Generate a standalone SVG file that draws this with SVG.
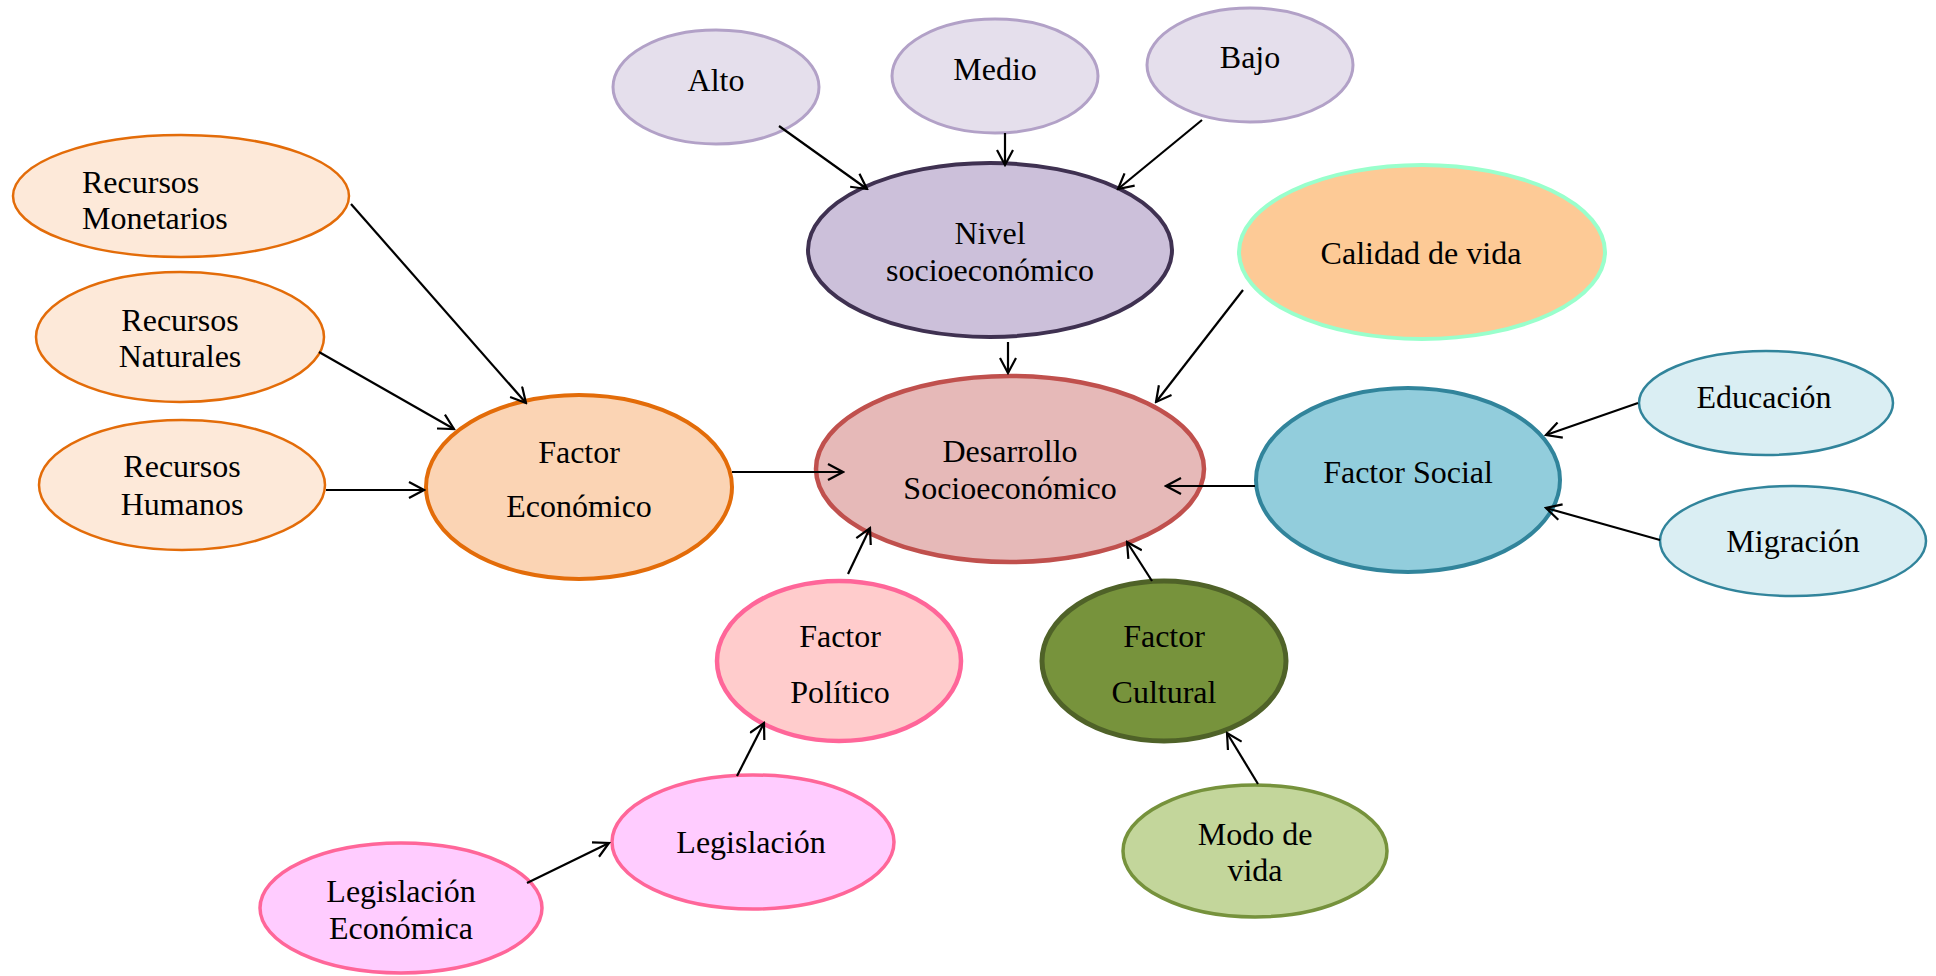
<svg xmlns="http://www.w3.org/2000/svg" width="1936" height="976" viewBox="0 0 1936 976">
<defs>
<marker id="ah" viewBox="0 0 18 18" refX="16" refY="9" markerWidth="18" markerHeight="18" markerUnits="userSpaceOnUse" orient="auto">
<path d="M1,1 L16,9 L1,17" fill="none" stroke="#000" stroke-width="2.2"/>
</marker>
<style>
text{font-family:"Liberation Serif","Times New Roman",serif;font-size:32px;fill:#000;text-anchor:middle}
.lil{fill:#e5dfec;stroke:#b2a1c7;stroke-width:3}
.org{fill:#fde9d9;stroke:#e36c09;stroke-width:2.5}
.blu{fill:#daeef3;stroke:#31849b;stroke-width:2.5}
.pnk{fill:#ffccff;stroke:#ff6699;stroke-width:3.5}
.con line{stroke:#000;stroke-width:2.2;marker-end:url(#ah)}
</style>
</defs>
<rect width="1936" height="976" fill="#fff"/>
<g id="alto"><ellipse class="lil" cx="716" cy="87" rx="103" ry="57"/><text x="716" y="91">Alto</text></g>
<g id="medio"><ellipse class="lil" cx="995" cy="76" rx="103" ry="57"/><text x="995" y="80">Medio</text></g>
<g id="bajo"><ellipse class="lil" cx="1250" cy="65" rx="103" ry="57"/><text x="1250" y="68">Bajo</text></g>
<g id="nivel"><ellipse cx="990" cy="250" rx="182" ry="87" fill="#ccc0da" stroke="#3f3151" stroke-width="4"/><text x="990" y="244">Nivel</text><text x="990" y="281">socioeconómico</text></g>
<g id="calidad"><ellipse cx="1422" cy="252" rx="183" ry="87" fill="#fdca96" stroke="#99ffcc" stroke-width="4"/><text x="1421" y="264">Calidad de vida</text></g>
<g id="rmon"><ellipse class="org" cx="181" cy="196" rx="168" ry="61"/><text x="82" y="193" style="text-anchor:start">Recursos</text><text x="82" y="229" style="text-anchor:start">Monetarios</text></g>
<g id="rnat"><ellipse class="org" cx="180" cy="337" rx="144" ry="65"/><text x="180" y="331">Recursos</text><text x="180" y="367">Naturales</text></g>
<g id="rhum"><ellipse class="org" cx="182" cy="485" rx="143" ry="65"/><text x="182" y="477">Recursos</text><text x="182" y="515">Humanos</text></g>
<g id="feco"><ellipse cx="579" cy="487" rx="153" ry="92" fill="#fbd4b4" stroke="#e36c09" stroke-width="4"/><text x="579" y="463">Factor</text><text x="579" y="517">Económico</text></g>
<g id="desarrollo"><ellipse cx="1010" cy="469" rx="194" ry="93" fill="#e6b9b8" stroke="#c0504d" stroke-width="4.5"/><text x="1010" y="462">Desarrollo</text><text x="1010" y="499">Socioeconómico</text></g>
<g id="fsocial"><ellipse cx="1408" cy="480" rx="152" ry="92" fill="#92cddc" stroke="#31849b" stroke-width="4"/><text x="1408" y="483">Factor Social</text></g>
<g id="educacion"><ellipse class="blu" cx="1766" cy="403" rx="127" ry="52"/><text x="1764" y="408">Educación</text></g>
<g id="migracion"><ellipse class="blu" cx="1793" cy="541" rx="133" ry="55"/><text x="1793" y="552">Migración</text></g>
<g id="fpol"><ellipse cx="839" cy="661" rx="122" ry="80" fill="#ffcccc" stroke="#ff6699" stroke-width="4.5"/><text x="840" y="647">Factor</text><text x="840" y="703">Político</text></g>
<g id="fcul"><ellipse cx="1164" cy="661" rx="122" ry="80" fill="#77933c" stroke="#4f6228" stroke-width="5"/><text x="1164" y="647">Factor</text><text x="1164" y="703">Cultural</text></g>
<g id="legislacion"><ellipse class="pnk" cx="753" cy="842" rx="141" ry="67"/><text x="751" y="853">Legislación</text></g>
<g id="legeco"><ellipse class="pnk" cx="401" cy="908" rx="141" ry="65"/><text x="401" y="902">Legislación</text><text x="401" y="939">Económica</text></g>
<g id="modo"><ellipse cx="1255" cy="851" rx="132" ry="66" fill="#c3d69b" stroke="#76923c" stroke-width="3.5"/><text x="1255" y="845">Modo de</text><text x="1255" y="881">vida</text></g>
<g id="connectors" class="con">
<line x1="779" y1="126" x2="867" y2="189"/>
<line x1="1005" y1="133" x2="1005" y2="165"/>
<line x1="1202" y1="120" x2="1118" y2="189"/>
<line x1="1008" y1="342" x2="1008" y2="373"/>
<line x1="1243" y1="290" x2="1156" y2="402"/>
<line x1="1255" y1="486" x2="1166" y2="486"/>
<line x1="1638" y1="403" x2="1546" y2="435"/>
<line x1="1660" y1="540" x2="1546" y2="508"/>
<line x1="1152" y1="581" x2="1127" y2="542"/>
<line x1="351" y1="204" x2="526" y2="403"/>
<line x1="319" y1="352" x2="454" y2="429"/>
<line x1="326" y1="490" x2="424" y2="490"/>
<line x1="732" y1="472" x2="843" y2="472"/>
<line x1="848" y1="574" x2="870" y2="528"/>
<line x1="737" y1="776" x2="764" y2="723"/>
<line x1="527" y1="883" x2="609" y2="843"/>
<line x1="1258" y1="784" x2="1227" y2="733"/>
</g>
</svg>
